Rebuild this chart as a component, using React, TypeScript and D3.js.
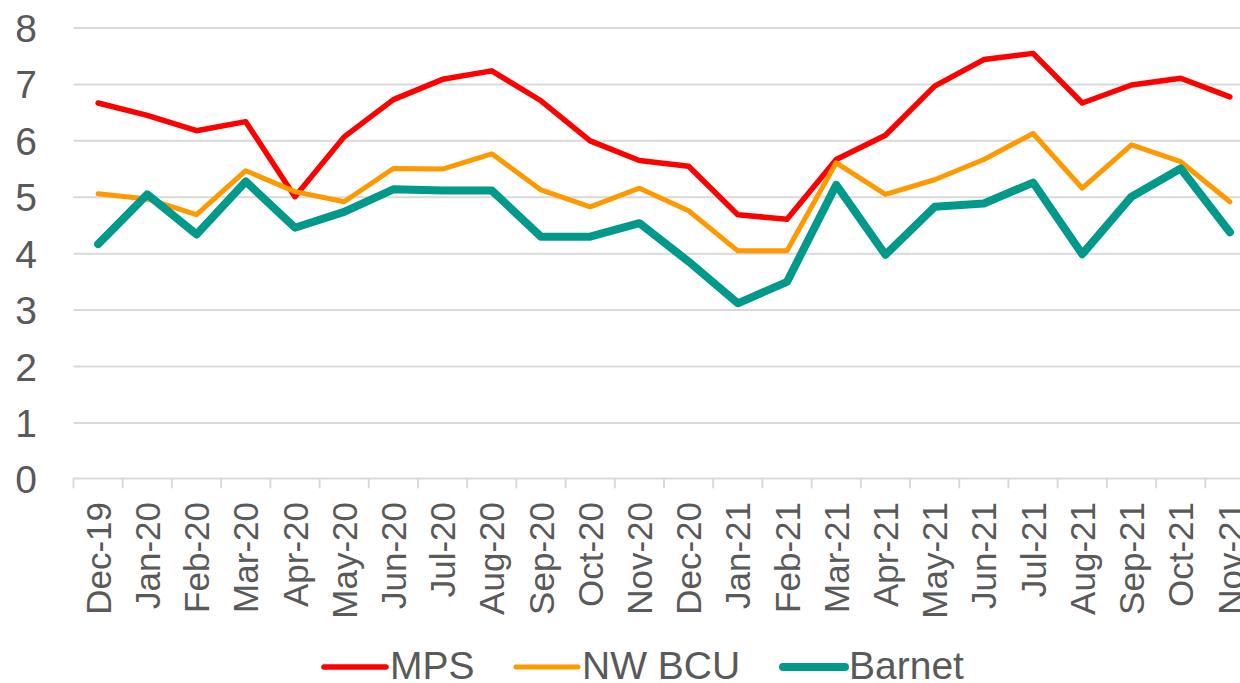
import React, { useRef, useEffect } from 'react';
import * as d3 from 'd3';

const months = [
  'Dec-19', 'Jan-20', 'Feb-20', 'Mar-20', 'Apr-20', 'May-20', 'Jun-20', 'Jul-20',
  'Aug-20', 'Sep-20', 'Oct-20', 'Nov-20', 'Dec-20', 'Jan-21', 'Feb-21', 'Mar-21',
  'Apr-21', 'May-21', 'Jun-21', 'Jul-21', 'Aug-21', 'Sep-21', 'Oct-21', 'Nov-21'
];

const mps = [
  6.67, 6.45, 6.18, 6.34, 5.01, 6.07, 6.73, 7.09, 7.24, 6.71, 6.0, 5.65,
  5.55, 4.69, 4.61, 5.67, 6.1, 6.97, 7.44, 7.55, 6.67, 6.99, 7.11, 6.78
];

const nwBcu = [
  5.06, 4.97, 4.69, 5.47, 5.1, 4.92, 5.51, 5.5, 5.77, 5.13, 4.83, 5.16,
  4.76, 4.05, 4.05, 5.61, 5.05, 5.31, 5.67, 6.13, 5.16, 5.93, 5.63, 4.92
];

const barnet = [
  4.17, 5.05, 4.34, 5.28, 4.46, 4.74, 5.14, 5.12, 5.12, 4.3, 4.3, 4.54,
  3.86, 3.12, 3.5, 5.22, 3.98, 4.83, 4.89, 5.26, 3.99, 5.01, 5.51, 4.38
];

const yTicks = [0, 1, 2, 3, 4, 5, 6, 7, 8];

const seriesNames = ['MPS', 'NW BCU', 'Barnet'];
const seriesColors = ['#ff0000', '#ff9900', '#00998a'];
const seriesWidths = [5.5, 5, 8];

const textColor = '#595959';
const gridColor = '#d9d9d9';
const font = 'Liberation Sans, Arial, sans-serif';

const App = () => {
  const chartRef = useRef<SVGSVGElement>(null);

  useEffect(() => {
    const width = 1240;
    const height = 683;

    const svg = d3.select(chartRef.current)
      .attr('width', width)
      .attr('height', height)
      .attr('viewBox', [0, 0, width, height].join(' '))
      .style('position', 'absolute')
      .style('left', '0px')
      .style('top', '0px')
      .style('background', '#fff');

    svg.selectAll('*').remove();

    // plot runs a little past the right edge, like the original crop
    const x = d3.scaleBand<string>()
      .domain(months)
      .range([73.5, 1254.5]);

    const y = d3.scaleLinear()
      .domain([0, 8])
      .range([479.3, 28]);

    // gridlines
    svg.append('g')
      .selectAll('line')
      .data(yTicks.filter(d => d > 0))
      .join('line')
      .attr('x1', 73.5)
      .attr('x2', width)
      .attr('y1', d => y(d))
      .attr('y2', d => y(d))
      .attr('stroke', gridColor)
      .attr('stroke-width', 2);

    // y labels
    svg.append('g')
      .selectAll('text')
      .data(yTicks)
      .join('text')
      .attr('x', 37)
      .attr('y', d => y(d))
      .attr('dy', '0.36em')
      .attr('text-anchor', 'end')
      .attr('fill', textColor)
      .style('font-family', font)
      .style('font-size', '39px')
      .text(d => d);

    // x axis line and ticks
    const axis = svg.append('g');
    axis.append('line')
      .attr('x1', 73.5)
      .attr('x2', width)
      .attr('y1', y(0) - 0.8)
      .attr('y2', y(0) - 0.8)
      .attr('stroke', gridColor)
      .attr('stroke-width', 2);

    axis.selectAll('.tick')
      .data([...months, ''])
      .join('line')
      .attr('class', 'tick')
      .attr('x1', (d, i) => 73.5 + i * x.step())
      .attr('x2', (d, i) => 73.5 + i * x.step())
      .attr('y1', y(0) - 1)
      .attr('y2', y(0) + 9)
      .attr('stroke', gridColor)
      .attr('stroke-width', 2);

    axis.selectAll('.label')
      .data(months)
      .join('text')
      .attr('class', 'label')
      .attr('transform', d => `translate(${x(d)! + x.bandwidth() / 2},502) rotate(-90)`)
      .attr('dy', '0.36em')
      .attr('text-anchor', 'end')
      .attr('fill', textColor)
      .style('font-family', font)
      .style('font-size', '35px')
      .text(d => d);

    // lines
    const line = d3.line<number>()
      .x((d, i) => x(months[i])! + x.bandwidth() / 2)
      .y(d => y(d));

    [mps, nwBcu, barnet].forEach((values, i) => {
      svg.append('path')
        .datum(values)
        .attr('fill', 'none')
        .attr('stroke', seriesColors[i])
        .attr('stroke-width', seriesWidths[i])
        .attr('stroke-linejoin', 'round')
        .attr('stroke-linecap', 'round')
        .attr('d', line);
    });

    // legend
    const legendX = [324, 516, 783];
    const legend = svg.append('g');
    seriesNames.forEach((name, i) => {
      legend.append('line')
        .attr('x1', legendX[i])
        .attr('x2', legendX[i] + 62)
        .attr('y1', 667)
        .attr('y2', 667)
        .attr('stroke', seriesColors[i])
        .attr('stroke-width', seriesWidths[i])
        .attr('stroke-linecap', 'round');

      legend.append('text')
        .attr('x', legendX[i] + 66)
        .attr('y', 679)
        .attr('fill', textColor)
        .style('font-family', font)
        .style('font-size', '39px')
        .text(name);
    });
  }, []);

  return <svg ref={chartRef}></svg>;
};

export default App;
